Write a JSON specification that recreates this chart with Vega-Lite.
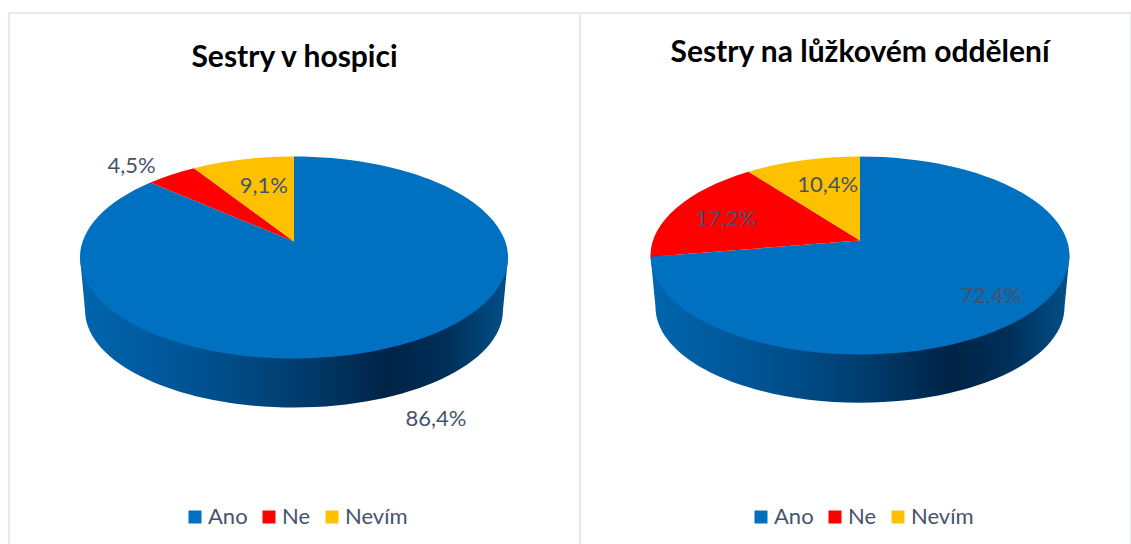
{"$schema":"https://vega.github.io/schema/vega-lite/v6.json","background":"white","padding":{"left":8,"top":12,"right":0,"bottom":0},"spacing":0,"bounds":"flush","config":{"view":{"stroke":"#E4E8F0","strokeWidth":2},"font":"Lato"},"datasets":{"pies":[{"panel":"Sestry v hospici","answer":"Ano","share":86.4,"order":1},{"panel":"Sestry v hospici","answer":"Ne","share":4.5,"order":2},{"panel":"Sestry v hospici","answer":"Nevím","share":9.1,"order":3},{"panel":"Sestry na lůžkovém oddělení","answer":"Ano","share":72.4,"order":1},{"panel":"Sestry na lůžkovém oddělení","answer":"Ne","share":17.2,"order":2},{"panel":"Sestry na lůžkovém oddělení","answer":"Nevím","share":10.4,"order":3}]},"hconcat":[{"width":571,"height":532,"title":{"text":"Sestry v hospici","font":"Lato","fontSize":30,"fontWeight":"bold","color":"#000000","anchor":"middle","offset":-60},"data":{"name":"pies"},"transform":[{"filter":"datum.panel==='Sestry v hospici'"},{"stack":"share","groupby":["panel"],"sort":[{"field":"order","order":"ascending"}],"offset":"normalize","as":["s0","s1"]},{"calculate":"0.158","as":"e"},{"calculate":"2*PI*datum.s0","as":"p0"},{"calculate":"2*PI*datum.s1","as":"p1"},{"calculate":"-datum.e*cos(datum.p0)+sqrt(pow(datum.e*cos(datum.p0),2)+1-datum.e*datum.e)","as":"t0"},{"calculate":"-datum.e*cos(datum.p1)+sqrt(pow(datum.e*cos(datum.p1),2)+1-datum.e*datum.e)","as":"t1"},{"calculate":"'M-0.5,'+round(100*(-21.5-datum.e*101))/100+'L'+round(100*(-0.5+214*datum.t0*sin(datum.p0)))/100+','+round(100*(-21.5+101*(-datum.e-datum.t0*cos(datum.p0))))/100+'A214,101,0,'+(datum.p1-datum.p0>PI?1:0)+',1,'+round(100*(-0.5+214*datum.t1*sin(datum.p1)))/100+','+round(100*(-21.5+101*(-datum.e-datum.t1*cos(datum.p1))))/100+'Z'","as":"wedge"},{"calculate":"(datum.p0+datum.p1)/2","as":"mid"},{"calculate":"datum.answer==='Ano'?1.6:datum.answer==='Ne'?1.16:0.5","as":"fx"},{"calculate":"datum.answer==='Ano'?1.76:datum.answer==='Ne'?1.2:0.74","as":"fy"},{"calculate":"-0.5+datum.fx*214*sin(datum.mid)","as":"lx"},{"calculate":"-21.5-datum.fy*101*cos(datum.mid)","as":"ly"},{"calculate":"replace(format(datum.share,'.1f'),'.',',')+'%'","as":"label"}],"layer":[{"transform":[{"filter":"datum.answer==='Ano'"}],"mark":{"type":"point","filled":true,"size":4,"opacity":1,"strokeWidth":0,"shape":"M-214.5,-21.5L-209.5,31A209,97.5,0,0,0,208.5,31L213.5,-21.5Z","fill":{"gradient":"linear","x1":0,"y1":0,"x2":1,"y2":0,"stops":[{"offset":0,"color":"#0066AE"},{"offset":0.3,"color":"#00508F"},{"offset":0.5,"color":"#003E70"},{"offset":0.72,"color":"#002346"},{"offset":0.86,"color":"#00305A"},{"offset":1,"color":"#01508A"}]}},"encoding":{}},{"mark":{"type":"point","filled":true,"size":4,"opacity":1,"strokeWidth":0},"encoding":{"shape":{"field":"wedge","type":"nominal","scale":null,"legend":null},"color":{"field":"answer","type":"nominal","scale":{"domain":["Ano","Ne","Nevím"],"range":["#0070C0","#FF0000","#FFC000"]},"legend":{"title":null,"orient":"none","direction":"horizontal","legendX":175,"legendY":493,"symbolType":"square","symbolSize":169,"symbolOpacity":1,"labelFont":"Lato","labelFontSize":22,"labelColor":"#44546A","columnPadding":10,"labelOffset":2}}}},{"mark":{"type":"text","font":"Lato","fontSize":22,"color":"#44546A","align":"center","baseline":"middle"},"encoding":{"x":{"field":"lx","type":"quantitative","scale":{"domain":[-285.5,285.5]},"axis":null},"y":{"field":"ly","type":"quantitative","scale":{"domain":[266,-266]},"axis":null},"text":{"field":"label","type":"nominal"}}}]},{"width":551,"height":532,"title":{"text":"Sestry na lůžkovém oddělení","font":"Lato","fontSize":30,"fontWeight":"bold","color":"#000000","anchor":"middle","offset":-55,"dx":4.5},"data":{"name":"pies"},"transform":[{"filter":"datum.panel==='Sestry na lůžkovém oddělení'"},{"stack":"share","groupby":["panel"],"sort":[{"field":"order","order":"ascending"}],"offset":"normalize","as":["s0","s1"]},{"calculate":"0.152","as":"e"},{"calculate":"2*PI*datum.s0","as":"p0"},{"calculate":"2*PI*datum.s1","as":"p1"},{"calculate":"-datum.e*cos(datum.p0)+sqrt(pow(datum.e*cos(datum.p0),2)+1-datum.e*datum.e)","as":"t0"},{"calculate":"-datum.e*cos(datum.p1)+sqrt(pow(datum.e*cos(datum.p1),2)+1-datum.e*datum.e)","as":"t1"},{"calculate":"'M4.5,'+round(100*(-23.5-datum.e*99))/100+'L'+round(100*(4.5+209.5*datum.t0*sin(datum.p0)))/100+','+round(100*(-23.5+99*(-datum.e-datum.t0*cos(datum.p0))))/100+'A209.5,99,0,'+(datum.p1-datum.p0>PI?1:0)+',1,'+round(100*(4.5+209.5*datum.t1*sin(datum.p1)))/100+','+round(100*(-23.5+99*(-datum.e-datum.t1*cos(datum.p1))))/100+'Z'","as":"wedge"},{"calculate":"(datum.p0+datum.p1)/2","as":"mid"},{"calculate":"datum.answer==='Ano'?0.82:datum.answer==='Ne'?0.69:0.48","as":"fx"},{"calculate":"datum.answer==='Ano'?0.64:datum.answer==='Ne'?1:0.75","as":"fy"},{"calculate":"4.5+datum.fx*209.5*sin(datum.mid)","as":"lx"},{"calculate":"-23.5-datum.fy*99*cos(datum.mid)","as":"ly"},{"calculate":"replace(format(datum.share,'.1f'),'.',',')+'%'","as":"label"}],"layer":[{"transform":[{"filter":"datum.answer==='Ano'"}],"mark":{"type":"point","filled":true,"size":4,"opacity":1,"strokeWidth":0,"shape":"M-205,-23.5L-200,28A204,95.5,0,0,0,209,28L214,-23.5Z","fill":{"gradient":"linear","x1":0,"y1":0,"x2":1,"y2":0,"stops":[{"offset":0,"color":"#0066AE"},{"offset":0.3,"color":"#00508F"},{"offset":0.5,"color":"#003E70"},{"offset":0.72,"color":"#002346"},{"offset":0.86,"color":"#00305A"},{"offset":1,"color":"#01508A"}]}},"encoding":{}},{"mark":{"type":"point","filled":true,"size":4,"opacity":1,"strokeWidth":0},"encoding":{"shape":{"field":"wedge","type":"nominal","scale":null,"legend":null},"color":{"field":"answer","type":"nominal","scale":{"domain":["Ano","Ne","Nevím"],"range":["#0070C0","#FF0000","#FFC000"]},"legend":{"title":null,"orient":"none","direction":"horizontal","legendX":170,"legendY":493,"symbolType":"square","symbolSize":169,"symbolOpacity":1,"labelFont":"Lato","labelFontSize":22,"labelColor":"#44546A","columnPadding":10,"labelOffset":2}}}},{"mark":{"type":"text","font":"Lato","fontSize":22,"color":"#44546A","align":"center","baseline":"middle"},"encoding":{"x":{"field":"lx","type":"quantitative","scale":{"domain":[-275.5,275.5]},"axis":null},"y":{"field":"ly","type":"quantitative","scale":{"domain":[266,-266]},"axis":null},"text":{"field":"label","type":"nominal"}}}]}],"resolve":{"scale":{"color":"independent"}}}
